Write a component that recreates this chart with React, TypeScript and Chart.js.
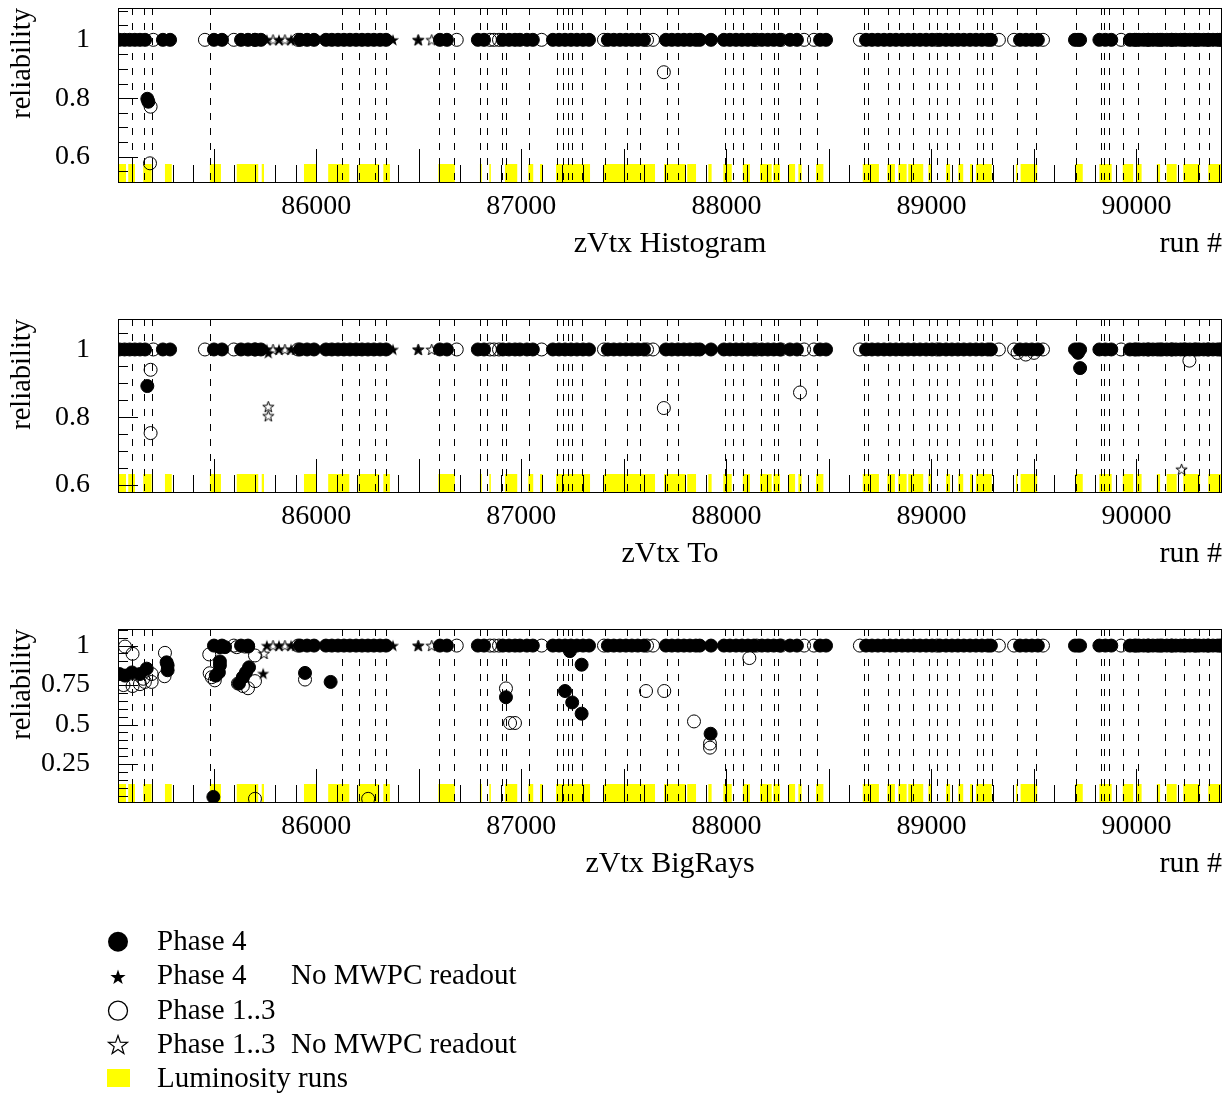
import React, { useEffect, useRef } from 'react';
import { Chart, registerables } from 'chart.js';

Chart.register(...registerables);

const FONT = '"Liberation Serif", "Times New Roman", Times, serif';

// x range (run numbers)
const RUN_MIN = 85033;
const RUN_MAX = 90417;

// runs marked with vertical dashed lines
const dashedRuns = [85102, 85158, 85197, 85481, 86124, 86208, 86286, 86340, 86598, 86671, 86798, 86834, 86907, 86925, 87037, 87172, 87205, 87226, 87247, 87294, 87408, 87514, 87579, 87709, 87765, 87992, 88031, 88082, 88167, 88232, 88250, 88359, 88440, 88671, 88689, 88788, 88840, 88912, 88990, 89026, 89074, 89136, 89221, 89253, 89297, 89416, 89510, 89704, 89826, 89843, 89865, 89936, 90007, 90138, 90232, 90303, 90352];

// luminosity run ranges
const lumiStart = [85033, 85083, 85156, 85262, 85481, 85612, 85734, 85940, 86058, 86205, 86327, 86595, 86798, 86844, 86920, 87034, 87091, 87169, 87403, 87696, 87809, 87912, 87985, 88080, 88164, 88229, 88305, 88351, 88437, 88665, 88785, 88838, 88887, 88985, 89071, 89131, 89188, 89217, 89412, 89435, 89700, 89819, 89933, 90001, 90099, 90147, 90228, 90350];
const lumiEnd = [85072, 85116, 85197, 85295, 85535, 85717, 85745, 86002, 86161, 86307, 86359, 86676, 86807, 86850, 86980, 87058, 87104, 87335, 87652, 87802, 87852, 87928, 88026, 88115, 88221, 88261, 88335, 88367, 88473, 88744, 88822, 88879, 88960, 89001, 89091, 89155, 89201, 89294, 89419, 89516, 89738, 89879, 89984, 90025, 90115, 90196, 90310, 90417];

// runs with reliability 1 (shared by the panels)
const bandFilledRuns = [85040, 85065, 85090, 85115, 85140, 85165, 85252, 85287, 85501, 85540, 85633, 85667, 85701, 85730, 85921, 85955, 85989, 86047, 86076, 86106, 86135, 86164, 86194, 86223, 86252, 86281, 86311, 86340, 86603, 86637, 86788, 86818, 86910, 86940, 86969, 86993, 87027, 87056, 87154, 87184, 87213, 87242, 87271, 87301, 87330, 87422, 87451, 87481, 87510, 87539, 87568, 87598, 87705, 87734, 87764, 87793, 87822, 87851, 87870, 87925, 87988, 88017, 88047, 88076, 88105, 88134, 88173, 88202, 88231, 88260, 88310, 88344, 88457, 88486, 88681, 88710, 88739, 88769, 88798, 88827, 88857, 88886, 88915, 88944, 88974, 89003, 89041, 89071, 89100, 89129, 89158, 89188, 89217, 89246, 89275, 89290, 89432, 89461, 89490, 89519, 89700, 89715, 89725, 89819, 89848, 89877, 89968, 89990, 90012, 90035, 90058, 90080, 90102, 90125, 90148, 90170, 90192, 90215, 90238, 90260, 90283, 90305, 90328, 90350, 90373, 90395, 90415];
const bandOpenRuns = [85205, 85457, 85598, 85701, 85911, 86685, 86847, 86867, 86891, 87099, 87403, 87613, 87642, 88148, 88267, 88379, 88427, 88651, 89027, 89329, 89403, 89544, 89925, 89998, 90056, 90115, 90173, 90232, 90290, 90349, 90407];
const bandFilledStarRuns = [85759, 85818, 85877, 86374, 86497];
const bandOpenStarRuns = [85789, 85847, 85901, 86497, 86563];

// points off the band: [run, reliability]
const histFilled = [[85176, 0.798], [85181, 0.788]];
const histOpen = [[85192, 0.771], [85189, 0.577], [87695, 0.889]];
const histFilledStar: number[][] = [];
const histOpenStar: number[][] = [];

const toFilled = [[85176, 0.892], [89725, 0.945], [89715, 0.99]];
const toOpen = [[85192, 0.94], [85192, 0.753], [87695, 0.827], [88359, 0.873], [90258, 0.967], [89420, 0.99], [89460, 0.985], [89500, 0.99]];
const toFilledStar = [[85766, 0.99]];
const toOpenStar = [[85766, 0.831], [85766, 0.804], [90220, 0.646]];

const bigFilled = [[85040, 0.82], [85067, 0.81], [85101, 0.83], [85140, 0.82], [85173, 0.854], [85270, 0.894], [85275, 0.875], [85275, 0.844], [85530, 0.99], [85555, 0.99], [85530, 0.9], [85530, 0.875], [85525, 0.83], [85510, 0.81], [85668, 0.994], [85672, 0.8625], [85657, 0.83], [85642, 0.8], [85623, 0.76], [85945, 0.827], [86070, 0.77], [85498, 0.042], [87237, 0.965], [87294, 0.879], [86925, 0.673], [87213, 0.7125], [87248, 0.64], [87294, 0.569], [87923, 0.442]];
const bigOpen = [[85067, 0.994], [85104, 0.948], [85060, 0.75], [85104, 0.744], [85140, 0.756], [85156, 0.79], [85164, 0.77], [85197, 0.82], [85197, 0.77], [85262, 0.954], [85260, 0.806], [85478, 0.944], [85480, 0.825], [85490, 0.8], [85505, 0.78], [85612, 0.99], [85652, 0.994], [85701, 0.9375], [85618, 0.76], [85642, 0.744], [85667, 0.73], [85701, 0.775], [85945, 0.785], [85701, 0.03], [86253, 0.03], [86925, 0.729], [86945, 0.51], [86969, 0.51], [87608, 0.7125], [87697, 0.7125], [87842, 0.52], [88112, 0.921], [87920, 0.38], [87920, 0.354]];
const bigFilledStar = [[85741, 0.823]];
const bigOpenStar = [[85745, 0.95]];

function makeStar(size: number, filled: boolean) {
  const c = document.createElement('canvas');
  c.width = size;
  c.height = size;
  const g = c.getContext('2d')!;
  const cx = size / 2;
  const cy = size / 2 + size * 0.04;
  const R = size / 2 - 0.6;
  const r = R * 0.4;
  g.beginPath();
  for (let i = 0; i < 10; i++) {
    const a = -Math.PI / 2 + (i * Math.PI) / 5;
    const rad = i % 2 === 0 ? R : r;
    g.lineTo(cx + rad * Math.cos(a), cy + rad * Math.sin(a));
  }
  g.closePath();
  if (filled) {
    g.fillStyle = '#000';
    g.fill();
  } else {
    g.strokeStyle = '#000';
    g.lineWidth = 1;
    g.stroke();
  }
  return c;
}

const decorPlugin = {
  id: 'decor',
  beforeDatasetsDraw(chart: any) {
    const { ctx, chartArea: a } = chart;
    const x = chart.scales.x;
    ctx.save();
    ctx.beginPath();
    ctx.rect(a.left, a.top, a.right - a.left, a.bottom - a.top);
    ctx.clip();
    ctx.fillStyle = '#ffff00';
    lumiStart.forEach((s, i) => {
      const x0 = x.getPixelForValue(s);
      const x1 = x.getPixelForValue(lumiEnd[i]);
      ctx.fillRect(x0, a.bottom - 18, Math.max(1.5, x1 - x0), 18);
    });
    ctx.strokeStyle = '#000';
    ctx.lineWidth = 1;
    ctx.setLineDash([7, 8]);
    dashedRuns.forEach((r) => {
      const px = Math.round(x.getPixelForValue(r)) + 0.5;
      ctx.beginPath();
      ctx.moveTo(px, a.top);
      ctx.lineTo(px, a.bottom);
      ctx.stroke();
    });
    ctx.restore();
  },
  afterDatasetsDraw(chart: any) {
    const { ctx, chartArea: a } = chart;
    const x = chart.scales.x;
    const y = chart.scales.y;
    ctx.save();
    ctx.strokeStyle = '#000';
    ctx.lineWidth = 1;
    ctx.beginPath();
    x.ticks.forEach((t: any) => {
      const px = Math.round(x.getPixelForValue(t.value)) + 0.5;
      const len = Math.round(t.value) % 500 === 0 ? 33 : 17;
      ctx.moveTo(px, a.bottom);
      ctx.lineTo(px, a.bottom - len);
    });
    y.ticks.forEach((t: any) => {
      const py = Math.round(y.getPixelForValue(t.value)) + 0.5;
      const len = t.label !== '' ? 20 : 10;
      ctx.moveTo(a.left, py);
      ctx.lineTo(a.left + len, py);
    });
    ctx.stroke();
    ctx.strokeRect(Math.round(a.left) + 0.5, Math.round(a.top) + 0.5, Math.round(a.right - a.left) - 1, Math.round(a.bottom - a.top));
    ctx.fillStyle = '#000';
    ctx.font = `30px ${FONT}`;
    ctx.textAlign = 'right';
    ctx.textBaseline = 'middle';
    ctx.fillText('run #', a.right, x.bottom - 56);
    ctx.restore();
  },
};

type Pt = number[];

interface PanelProps {
  top: number;
  padTop: number;
  title: string;
  yMin: number;
  yMax: number;
  yMajor: number;
  filled: Pt[];
  open: Pt[];
  filledStar: Pt[];
  openStar: Pt[];
}

function Panel(p: PanelProps) {
  const ref = useRef<HTMLCanvasElement>(null);
  useEffect(() => {
    const canvas = ref.current!;
    const toXY = (arr: Pt[]) => arr.map(([x, y]) => ({ x, y }));
    const filledStarImg = makeStar(14, true);
    const openStarImg = makeStar(13, false);
    const isMajor = (v: number) => Math.abs(v / p.yMajor - Math.round(v / p.yMajor)) < 1e-6;
    const font = { family: FONT, size: 28 };
    const chart = new Chart(canvas, {
      type: 'scatter',
      data: {
        datasets: [
          { label: 'Phase 4', data: toXY(p.filled), pointStyle: 'circle', pointRadius: 6.5, backgroundColor: '#000', borderColor: '#000', borderWidth: 1, clip: 0 } as any,
          { label: 'Phase 4 No MWPC readout', data: toXY(p.filledStar), pointStyle: filledStarImg, pointRadius: 7, clip: 0 } as any,
          { label: 'Phase 1..3 No MWPC readout', data: toXY(p.openStar), pointStyle: openStarImg, pointRadius: 7, clip: 0 } as any,
          { label: 'Phase 1..3', data: toXY(p.open), pointStyle: 'circle', pointRadius: 6.5, backgroundColor: 'rgba(0,0,0,0)', borderColor: '#000', borderWidth: 1, clip: 0 } as any,
        ],
      },
      options: {
        animation: false,
        responsive: false,
        maintainAspectRatio: false,
        events: [],
        layout: { padding: { top: p.padTop, right: 7.5, left: 0, bottom: 0 } },
        plugins: { legend: { display: false }, tooltip: { enabled: false } },
        scales: {
          x: {
            type: 'linear',
            min: RUN_MIN,
            max: RUN_MAX,
            grid: { display: false, drawTicks: false },
            border: { display: false },
            ticks: {
              stepSize: 100,
              autoSkip: false,
              includeBounds: false,
              maxRotation: 0,
              minRotation: 0,
              padding: 8,
              color: '#000',
              font,
              callback: (v: any) => (Math.round(v) % 1000 === 0 ? String(Math.round(v)) : ''),
            },
            title: { display: true, text: p.title, color: '#000', font: { family: FONT, size: 30 }, padding: { top: 0, bottom: 38 } },
            afterFit: (s: any) => {
              s.height = 118;
              s.paddingLeft = 0;
              s.paddingRight = 0;
              s.paddingTop = 0;
              s.paddingBottom = 0;
            },
          },
          y: {
            type: 'linear',
            min: p.yMin,
            max: p.yMax,
            grid: { display: false, drawTicks: false },
            border: { display: false },
            ticks: {
              stepSize: 0.05,
              autoSkip: false,
              includeBounds: false,
              padding: 28,
              color: '#000',
              font,
              callback: (v: any) => (isMajor(v) ? String(Math.round(v * 100) / 100) : ''),
            },
            title: { display: true, text: 'reliability', align: 'end', color: '#000', font: { family: FONT, size: 28.5 }, padding: { top: 5, bottom: 0 } },
            afterFit: (s: any) => {
              s.width = 118;
              s.paddingTop = 0;
              s.paddingBottom = 0;
              s.paddingLeft = 0;
              s.paddingRight = 0;
            },
          },
        },
      } as any,
      plugins: [decorPlugin],
    });
    return () => chart.destroy();
  }, []);
  return (
    <canvas
      ref={ref}
      width={1230}
      height={300}
      style={{ position: 'absolute', left: 0, top: p.top, width: 1230, height: 300 }}
    />
  );
}

const band = (runs: number[], keep: (r: number) => boolean = () => true): Pt[] =>
  runs.filter(keep).map((r) => [r, 1]);

const keepBig = (r: number) => r >= 85480 && !(r >= 85690 && r <= 85740);

function starPoints(cx: number, cy: number, R: number) {
  const r = R * 0.4;
  const pts: string[] = [];
  for (let i = 0; i < 10; i++) {
    const a = -Math.PI / 2 + (i * Math.PI) / 5;
    const rad = i % 2 === 0 ? R : r;
    pts.push(`${(cx + rad * Math.cos(a)).toFixed(2)},${(cy + rad * Math.sin(a)).toFixed(2)}`);
  }
  return pts.join(' ');
}

function Legend() {
  const textStyle = { fontFamily: FONT, fontSize: 29, fill: '#000' } as any;
  return (
    <svg width={1230} height={195} style={{ position: 'absolute', left: 0, top: 900 }}>
      <circle cx={118} cy={41.7} r={10} fill="#000" />
      <text x={157} y={50} style={textStyle}>Phase 4</text>
      <polygon points={starPoints(118, 77.5, 8)} fill="#000" />
      <text x={157} y={84} style={textStyle}>Phase 4</text>
      <text x={291} y={84} style={textStyle}>No MWPC readout</text>
      <circle cx={118} cy={110.7} r={9.5} fill="none" stroke="#000" strokeWidth={1.3} />
      <text x={157} y={119} style={textStyle}>Phase 1..3</text>
      <polygon points={starPoints(118, 145.5, 10)} fill="none" stroke="#000" strokeWidth={1.2} />
      <text x={157} y={153.3} style={textStyle}>Phase 1..3</text>
      <text x={291} y={153.3} style={textStyle}>No MWPC readout</text>
      <rect x={107} y={169} width={23} height={18} fill="#ffff00" />
      <text x={157} y={186.7} style={textStyle}>Luminosity runs</text>
    </svg>
  );
}

export default function App() {
  return (
    <div style={{ position: 'absolute', left: 0, top: 0, width: 1230, height: 1095, background: '#fff', overflow: 'hidden' }}>
      <Panel
        top={0}
        padTop={8}
        title="zVtx Histogram"
        yMin={0.513}
        yMax={1.109}
        yMajor={0.2}
        filled={[...band(bandFilledRuns), ...histFilled]}
        open={[...band(bandOpenRuns), ...histOpen]}
        filledStar={[...band(bandFilledStarRuns), ...histFilledStar]}
        openStar={[...band(bandOpenStarRuns), ...histOpenStar]}
      />
      <Panel
        top={310}
        padTop={9}
        title="zVtx To"
        yMin={0.579}
        yMax={1.09}
        yMajor={0.2}
        filled={[...band(bandFilledRuns), ...toFilled]}
        open={[...band(bandOpenRuns), ...toOpen]}
        filledStar={[...band(bandFilledStarRuns), ...toFilledStar]}
        openStar={[...band(bandOpenStarRuns), ...toOpenStar]}
      />
      <Panel
        top={620}
        padTop={9}
        title="zVtx BigRays"
        yMin={0.01}
        yMax={1.105}
        yMajor={0.25}
        filled={[...band(bandFilledRuns, keepBig), ...bigFilled]}
        open={[...band(bandOpenRuns, keepBig), ...bigOpen]}
        filledStar={[...band(bandFilledStarRuns, keepBig), ...bigFilledStar]}
        openStar={[...band(bandOpenStarRuns, keepBig), ...bigOpenStar]}
      />
      <Legend />
    </div>
  );
}
